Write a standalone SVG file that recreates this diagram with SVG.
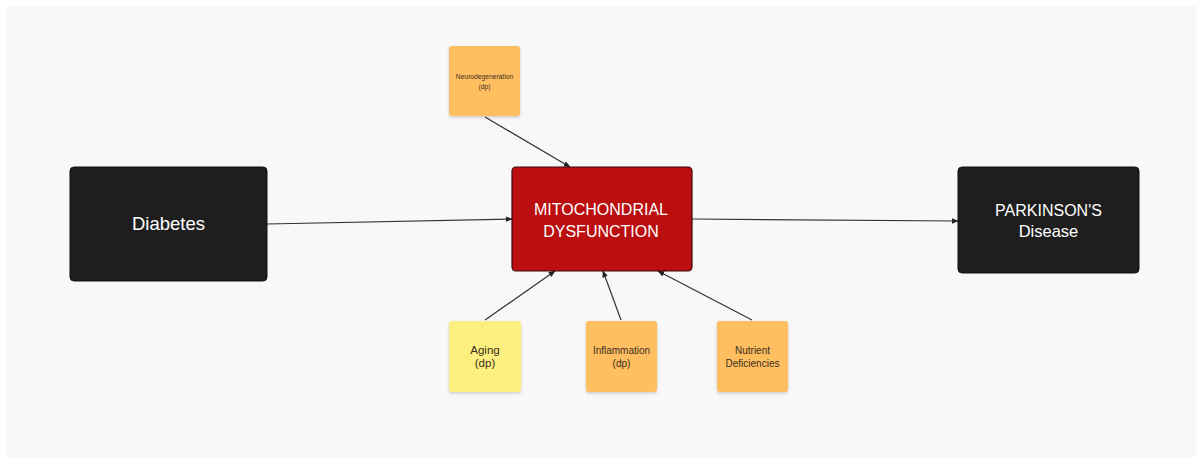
<svg xmlns="http://www.w3.org/2000/svg" width="1203" height="457" viewBox="0 0 1203 457">
<defs>
<style>
.dark{fill:#1e1e1e;stroke:#111;stroke-width:1}
.red{fill:#bb0e0e;stroke:#3a0a0a;stroke-width:1.2}
.orange{fill:#ffbe5e}
.yellow{fill:#fcef7f}
.wt{font-family:"Liberation Sans",Arial,sans-serif;fill:#ffffff;text-anchor:middle}
.nt{font-family:"Liberation Sans",Arial,sans-serif;fill:#3a2e20;text-anchor:middle}
.conn{stroke:#333;stroke-width:1.2;fill:none;marker-end:url(#ah)}
</style>
<marker id="ah" viewBox="0 0 10 10" refX="9" refY="5" markerWidth="7" markerHeight="7" orient="auto" markerUnits="userSpaceOnUse"><path d="M0,1 L10,5 L0,9 z" fill="#222"/></marker>
<filter id="sh" x="-20%" y="-20%" width="140%" height="140%"><feDropShadow dx="0" dy="1.5" stdDeviation="1.5" flood-color="#000" flood-opacity="0.18"/></filter>
</defs>
<rect x="0" y="0" width="1203" height="457" fill="#ffffff"/>
<rect x="7" y="6" width="1189" height="451" fill="#f8f8f8"/>
<g id="connectors">
<line class="conn" x1="267" y1="224" x2="512" y2="219"/>
<line class="conn" x1="692" y1="219" x2="958" y2="221"/>
<line class="conn" x1="485" y1="117" x2="570" y2="167"/>
<line class="conn" x1="485" y1="320" x2="555" y2="271"/>
<line class="conn" x1="621" y1="320" x2="603" y2="271"/>
<line class="conn" x1="752" y1="320" x2="658" y2="271"/>
</g>
<g id="diabetes">
<rect class="dark" x="70" y="167" width="197" height="114" rx="4"/>
<text class="wt" x="168.5" y="230" font-size="18.5">Diabetes</text>
</g>
<g id="mito">
<rect class="red" x="512" y="167" width="180" height="104" rx="4"/>
<text class="wt" x="601" y="215" font-size="16" fill="#fbe8e8">MITOCHONDRIAL</text>
<text class="wt" x="601" y="237" font-size="16" fill="#fbe8e8">DYSFUNCTION</text>
</g>
<g id="parkinsons">
<rect class="dark" x="958" y="167" width="181" height="106" rx="4"/>
<text class="wt" x="1048.5" y="216" font-size="16">PARKINSON'S</text>
<text class="wt" x="1048.5" y="237" font-size="16.5">Disease</text>
</g>
<g id="neuro">
<rect class="orange" x="449" y="46" width="71" height="70" rx="3" filter="url(#sh)"/>
<text class="nt" x="484.5" y="79" font-size="6.7">Neurodegeneration</text>
<text class="nt" x="484.5" y="89" font-size="6.7">(dp)</text>
</g>
<g id="aging">
<rect class="yellow" x="449" y="321" width="72" height="71" rx="3" filter="url(#sh)"/>
<text class="nt" x="485" y="354" font-size="11.5" fill="#222">Aging</text>
<text class="nt" x="485" y="367" font-size="11.5" fill="#222">(dp)</text>
</g>
<g id="inflammation">
<rect class="orange" x="586" y="321" width="71" height="71" rx="3" filter="url(#sh)"/>
<text class="nt" x="621.5" y="353.5" font-size="10">Inflammation</text>
<text class="nt" x="621.5" y="366.5" font-size="10">(dp)</text>
</g>
<g id="nutrient">
<rect class="orange" x="717" y="321" width="71" height="71" rx="3" filter="url(#sh)"/>
<text class="nt" x="752.5" y="353.5" font-size="10">Nutrient</text>
<text class="nt" x="752.5" y="366.5" font-size="10">Deficiencies</text>
</g>
</svg>
